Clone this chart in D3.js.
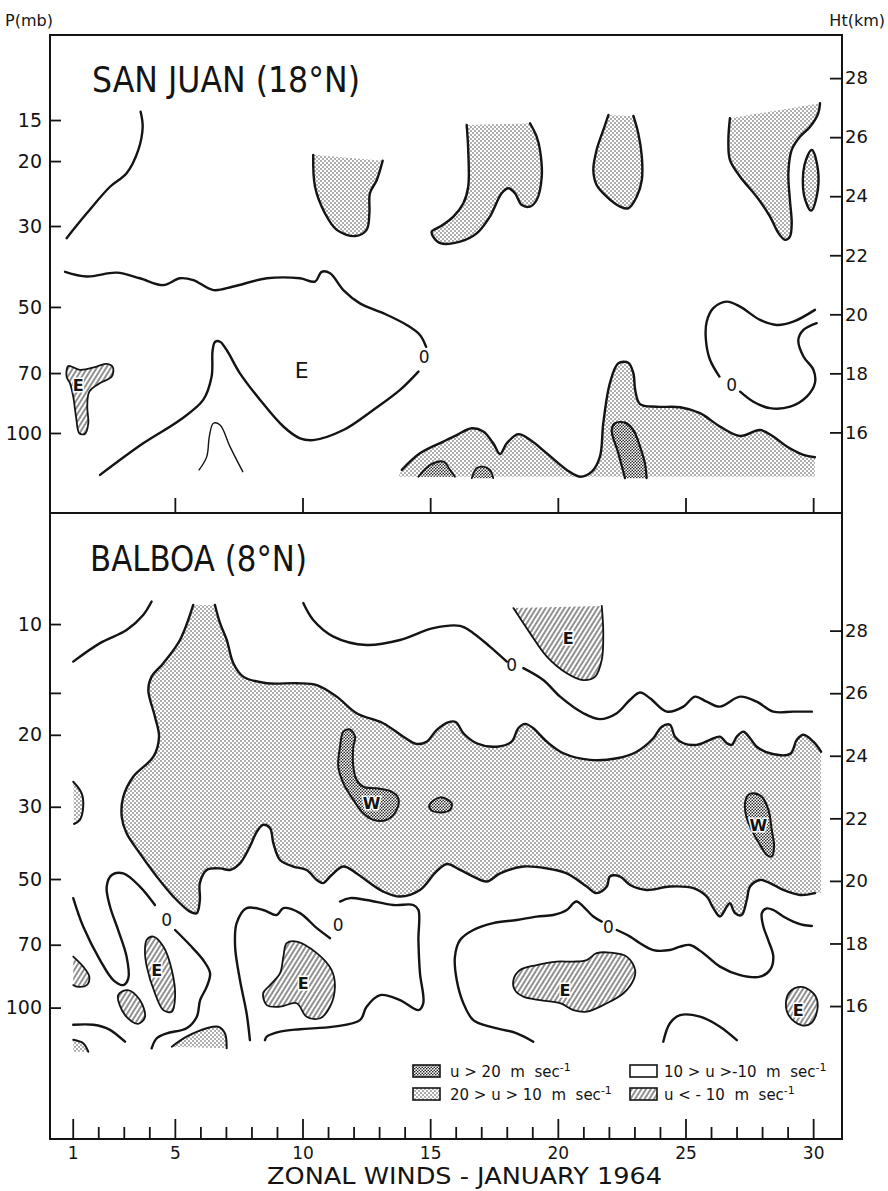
<!DOCTYPE html>
<html>
<head>
<meta charset="utf-8">
<script src="https://cdn.jsdelivr.net/npm/d3@7"></script>
<style>
  body { margin: 0; background: #fff; }
  svg { display: block; font-family: "DejaVu Sans", "Liberation Sans", sans-serif; }
</style>
</head>
<body>
<div id="chart"></div>
<script>
// ---- axes ----
const days = d3.range(1, 31);
const majorDays = [1, 5, 10, 15, 20, 25, 30];
const panelTickDays = [5, 10, 15, 20, 25, 30];
const heightTicks = [16, 18, 20, 22, 24, 26, 28];
const sjPressure = [15, 20, 30, 50, 70, 100];
const sjPressureKm = [26.58, 25.19, 22.99, 20.25, 18.01, 15.98];
const bbPressure = [10, 15, 20, 30, 50, 70, 100];
const bbPressureLabel = ['10', '', '20', '30', '50', '70', '100'];
const bbPressureKm = [28.21, 26.01, 24.67, 22.37, 20.06, 17.96, 15.95];

// ---- San Juan contours, [day, km] ----
const sjZeroWest = [[0.76,22.58],[1.55,23.42],[2.46,24.32],[3.11,24.78],[3.57,25.57],[3.74,26.35],[3.66,26.86]];
const sjStipA = [[10.42,25.40],[10.49,24.32],[10.88,23.42],[11.34,22.86],[12.06,22.65],[12.51,22.86],[12.62,23.42],[12.64,24.10],[12.91,24.55],[13.14,25.20]];
const sjStipB = [[16.43,26.41],[16.49,25.57],[16.49,24.32],[16.30,23.76],[15.91,23.31],[15.39,22.97],[15.06,22.80],[15.12,22.62],[15.39,22.41],[16.17,22.46],[16.82,22.74],[17.34,23.31],[17.80,24.10],[18.06,24.27],[18.32,24.10],[18.59,23.70],[18.91,23.65],[19.17,23.87],[19.37,24.66],[19.30,25.57],[19.17,26.02],[18.91,26.47]];
const sjStipC = [[21.98,26.75],[21.78,26.24],[21.52,25.57],[21.39,24.89],[21.52,24.38],[21.92,23.98],[22.44,23.65],[22.76,23.59],[23.09,23.98],[23.29,24.55],[23.29,25.34],[23.15,26.13],[22.96,26.72]];
const sjStipD = [[26.74,26.64],[26.68,25.90],[26.74,25.23],[27.14,24.66],[27.79,23.98],[28.31,23.31],[28.64,22.75],[28.90,22.52],[29.09,22.63],[29.16,23.08],[29.09,23.87],[29.03,24.78],[29.16,25.57],[29.49,26.02],[29.88,26.35],[30.20,26.81],[30.27,27.15]];
const sjStipE = [[29.95,25.57],[30.19,24.89],[30.15,24.04],[29.92,23.51],[29.64,24.04],[29.66,25.06]];
const sjZeroNorth = [[0.70,21.44],[1.55,21.28],[2.72,21.41],[3.63,21.22],[4.55,20.99],[5.20,21.22],[5.72,21.16],[6.51,20.82],[7.29,20.94],[8.60,21.22],[9.90,21.22],[10.49,21.11],[10.75,21.44],[11.08,21.39],[11.60,20.82],[12.25,20.37],[13.16,20.04],[14.08,19.64],[14.60,19.30],[14.84,18.90]];
const sjZeroSouth = [[14.54,18.06],[13.82,17.44],[12.77,16.76],[11.60,16.08],[10.42,15.74],[9.90,15.80],[9.25,16.20],[8.34,17.10],[7.55,18.00],[7.03,18.79],[6.77,19.07],[6.58,19.07],[6.48,18.79],[6.44,17.89],[6.11,17.10],[5.20,16.42],[3.76,15.63],[2.07,14.56]];
const sjThin = [[5.95,14.73],[6.25,15.18],[6.35,15.86],[6.51,16.31],[6.77,16.25],[7.16,15.52],[7.66,14.67]];
const sjEastCell = [[0.83,18.25],[1.28,18.12],[1.94,18.23],[2.33,18.32],[2.57,18.21],[2.53,17.89],[2.07,17.67],[1.65,17.38],[1.57,16.87],[1.61,16.31],[1.48,15.95],[1.26,15.97],[1.13,16.53],[1.02,17.21],[0.89,17.67],[0.76,17.89]];
const sjLowStip = [[13.89,14.73],[14.60,15.29],[15.52,15.69],[16.04,15.91],[16.63,16.14],[17.08,16.03],[17.47,15.63],[17.74,15.27],[18.00,15.63],[18.45,15.94],[18.91,15.75],[19.57,15.29],[20.35,14.73],[20.87,14.50],[21.33,14.67],[21.65,15.18],[21.78,16.31],[22.04,17.67],[22.37,18.34],[22.76,18.36],[22.96,18.00],[23.03,17.44],[23.22,16.96],[23.87,16.87],[24.79,16.85],[25.57,16.65],[26.35,16.20],[27.14,15.88],[27.92,16.08],[28.44,15.86],[28.97,15.52],[29.62,15.24],[30.07,15.16]];
const sjLowStipClose = [[30.07,14.50],[13.75,14.50]];
const sjLowStrong = [[22.63,14.45],[22.37,15.29],[22.11,16.08],[22.24,16.31],[22.63,16.33],[22.96,16.08],[23.22,15.52],[23.41,14.96],[23.48,14.45]];
const sjLowStrongA = [[14.54,14.50],[15.00,14.90],[15.52,15.01],[15.78,14.73],[15.97,14.50]];
const sjLowStrongB = [[16.63,14.45],[16.82,14.79],[17.08,14.84],[17.34,14.73],[17.47,14.45]];
const sjLoopNorth = [[30.07,20.15],[29.22,19.75],[28.57,19.64],[27.92,19.81],[27.14,20.26],[26.62,20.43],[26.09,20.21],[25.83,19.75],[25.80,19.13],[25.96,18.46],[26.33,17.89]];
const sjLoopSouth = [[27.14,17.38],[27.66,17.04],[28.31,16.82],[29.10,16.87],[29.75,17.21],[30.07,17.67],[30.01,18.12],[29.62,18.57],[29.42,19.13],[29.62,19.47],[30.14,19.70]];
const sjLabels = [
  { text: 'E', day: 9.97, km: 18.12, kind: 'big' },
  { text: 'E', day: 1.22, km: 17.61, kind: 'cell' },
  { text: '0', day: 14.76, km: 18.57, kind: 'zero' },
  { text: '0', day: 26.81, km: 17.61, kind: 'zero' }
];

// ---- Balboa contours, [day, km] ----
const bbLineNW = [[1.02,27.01],[2.07,27.60],[3.11,28.02],[3.76,28.50],[4.09,28.93]];
const bbZeroNorthA = [[10.03,28.88],[10.42,28.34],[11.21,27.81],[12.51,27.54],[13.82,27.70],[15.12,28.08],[16.17,28.15],[16.69,27.92],[17.34,27.49],[18.00,27.01]];
const bbZeroNorthB = [[18.65,26.80],[19.43,26.42],[20.09,25.89],[21.00,25.36],[21.65,25.17],[22.31,25.36],[22.83,25.79],[23.22,26.02],[23.61,25.84],[24.27,25.41],[24.92,25.57],[25.37,25.89],[25.83,25.73],[26.35,25.57],[27.14,25.89],[27.79,25.73],[28.44,25.41],[29.22,25.41],[29.95,25.41]];
const bbEastTop = [[21.72,28.79],[21.78,27.92],[21.72,27.06],[21.46,26.53],[21.00,26.42],[20.35,26.64],[19.57,27.17],[18.91,27.92],[18.26,28.72]];
const bbBandTop = [[6.57,28.82],[6.77,28.24],[7.03,27.71],[7.29,26.96],[7.68,26.53],[8.60,26.32],[9.77,26.32],[10.56,26.26],[11.34,25.89],[12.12,25.36],[13.16,25.04],[13.95,24.61],[14.47,24.38],[14.86,24.45],[15.26,24.83],[15.70,25.07],[16.00,25.08],[16.30,24.72],[16.82,24.40],[17.61,24.29],[18.19,24.45],[18.45,24.88],[18.72,25.02],[19.04,24.88],[19.57,24.45],[20.22,24.08],[21.26,23.87],[22.31,23.92],[23.09,24.13],[23.74,24.56],[24.07,24.93],[24.39,24.99],[24.59,24.61],[24.92,24.40],[25.44,24.35],[25.96,24.51],[26.35,24.61],[26.62,24.40],[26.81,24.35],[27.01,24.61],[27.27,24.77],[27.53,24.56],[27.79,24.29],[28.31,24.08],[29.10,24.06],[29.36,24.51],[29.62,24.67],[30.01,24.45],[30.31,24.13]];
const bbBandEdge = [[30.31,19.61]];
const bbBandBottom = [[30.07,19.61],[29.49,19.55],[28.83,19.71],[28.31,19.93],[27.92,20.03],[27.53,19.82],[27.40,19.39],[27.20,18.91],[26.94,18.97],[26.74,19.29],[26.62,19.18],[26.35,18.86],[26.09,19.13],[25.83,19.50],[25.31,19.77],[24.39,19.82],[23.48,19.71],[22.83,19.87],[22.44,20.14],[22.04,20.14],[21.92,19.82],[21.52,19.61],[21.13,19.82],[20.35,20.24],[19.57,20.40],[18.65,20.46],[17.74,20.24],[17.22,19.98],[16.69,20.14],[16.17,20.35],[15.66,20.54],[15.23,20.29],[14.60,19.71],[13.82,19.50],[13.16,19.66],[12.64,19.93],[12.12,20.24],[11.60,20.46],[11.08,20.14],[10.81,19.93],[10.56,20.03],[10.16,20.35],[9.64,20.46],[9.12,20.67],[8.86,21.20],[8.73,21.68],[8.46,21.79],[8.21,21.57],[7.94,21.10],[7.55,20.56],[7.16,20.35],[6.77,20.40],[6.25,20.35],[5.98,19.93],[5.98,19.39],[5.86,18.97],[5.59,19.02],[4.94,19.50],[4.29,20.14],[3.63,20.88],[3.11,21.52],[2.92,22.05],[2.98,22.69],[3.37,23.33],[4.16,23.97],[4.38,24.61],[4.22,25.25],[3.96,26.10],[4.09,26.53],[4.55,26.96],[5.20,27.70],[5.72,28.82]];
const bbWestA = [[11.60,24.77],[11.86,24.84],[12.06,24.60],[11.99,24.29],[11.99,23.65],[12.12,23.23],[12.38,23.01],[12.91,22.96],[13.49,22.85],[13.75,22.64],[13.69,22.27],[13.30,21.95],[12.77,21.95],[12.38,22.16],[11.99,22.59],[11.60,23.12],[11.40,23.65],[11.47,24.29]];
const bbBlob = [[14.97,22.43],[15.39,22.67],[15.84,22.49],[15.78,22.27],[15.39,22.19],[15.03,22.27]];
const bbWestB = [[27.66,22.80],[27.99,22.69],[28.25,22.27],[28.38,21.63],[28.47,21.10],[28.38,20.78],[28.18,20.83],[27.92,21.15],[27.66,21.52],[27.40,22.00],[27.33,22.48],[27.46,22.75]];
const bbEdgeStip = [[1.02,23.17],[1.35,22.80],[1.41,22.37],[1.28,21.95],[1.05,21.82]];
const bbLoopWestA = [[1.02,19.45],[1.41,18.54],[2.07,17.47],[2.59,16.83],[2.98,16.67],[3.18,16.89],[3.11,17.58],[2.78,18.43],[2.46,19.18],[2.33,19.82],[2.53,20.19],[2.98,20.24],[3.63,19.82],[4.22,19.23]];
const bbLoopWestB = [[5.01,18.43],[5.59,17.95],[6.11,17.47],[6.38,17.05],[6.25,16.62],[5.99,16.19],[5.86,15.66],[5.46,15.29],[4.68,15.13],[4.29,14.97],[4.09,14.65]];
const bbEastA = [[3.90,18.12],[4.16,18.22],[4.55,17.90],[4.88,17.15],[5.01,16.30],[4.88,15.82],[4.55,15.87],[4.22,16.41],[3.90,17.26],[3.83,17.79]];
const bbHatchEdge = [[1.02,17.58],[1.41,17.26],[1.65,16.94],[1.55,16.67],[1.16,16.62],[1.02,16.67]];
const bbHatchSmall = [[2.78,16.35],[3.16,16.51],[3.63,16.19],[3.83,15.65],[3.56,15.43],[3.05,15.71]];
const bbLineSW = [[1.02,15.40],[1.81,15.40],[2.46,15.24],[3.05,14.86]];
const bbStipCorner = [[1.02,14.92],[1.41,14.81],[1.61,14.54]];
const bbStipCornerClose = [[1.02,14.54]];
const bbStipLow = [[4.88,14.70],[5.46,15.02],[6.25,15.29],[6.70,15.34],[6.96,15.13],[7.03,14.65]];
const bbLoopMidA = [[7.94,14.91],[7.81,15.77],[7.55,16.83],[7.36,17.90],[7.42,18.65],[7.81,19.13],[8.46,19.07],[8.99,18.91],[9.25,19.13],[9.90,18.97],[10.56,18.49],[11.08,18.17]];
const bbLoopMidB = [[11.47,19.34],[11.86,19.45],[12.51,19.39],[13.56,19.23],[14.34,19.23],[14.54,19.07],[14.54,18.11],[14.60,17.05],[14.73,16.09],[14.54,15.87],[13.82,16.19],[13.04,16.35],[12.51,15.98],[12.25,15.55],[11.21,15.34],[9.90,15.26],[9.12,15.18],[8.60,15.02],[8.53,14.91]];
const bbEastB = [[9.38,18.01],[9.77,18.06],[10.56,17.69],[11.14,17.15],[11.27,16.62],[11.08,15.98],[10.69,15.61],[10.16,15.66],[9.77,16.09],[9.12,15.98],[8.60,16.03],[8.46,16.41],[8.73,16.67],[9.12,17.05],[9.25,17.58]];
const bbLoopEastA = [[19.04,14.86],[18.39,15.13],[17.34,15.34],[16.69,15.55],[16.30,16.09],[16.04,16.83],[15.97,17.58],[16.17,18.11],[16.69,18.43],[17.47,18.65],[18.39,18.75],[19.17,18.86],[19.82,18.91],[20.35,19.07],[20.61,19.29],[20.74,19.34],[21.00,19.18],[21.39,18.86],[21.72,18.70]];
const bbLoopEastB = [[22.31,18.43],[22.83,18.22],[23.22,18.01],[23.74,17.79],[24.39,17.79],[24.79,17.90],[25.18,17.95],[25.70,17.69],[26.35,17.26],[27.14,16.99],[27.92,16.94],[28.31,17.15],[28.44,17.58],[28.24,18.11],[28.05,18.54],[27.99,18.97],[28.18,19.12],[28.44,19.07],[28.83,18.86],[29.22,18.70],[29.62,18.59],[29.95,18.56]];
const bbEastC = [[18.26,16.83],[18.52,17.15],[19.17,17.31],[19.96,17.42],[20.61,17.42],[21.13,17.47],[21.52,17.69],[22.04,17.71],[22.70,17.58],[23.03,17.15],[22.96,16.83],[22.57,16.41],[21.92,16.09],[21.13,15.82],[20.61,15.87],[20.09,16.09],[19.30,16.19],[18.65,16.30],[18.32,16.51]];
const bbEastD = [[29.56,16.61],[30.04,16.38],[30.18,16.00],[29.96,15.48],[29.56,15.38],[29.06,15.68],[28.94,16.16],[29.13,16.49]];
const bbArc = [[24.13,14.86],[24.39,15.45],[24.79,15.71],[25.57,15.66],[26.35,15.34],[27.01,14.91]];
const bbLabels = [
  { text: 'E', day: 20.41, km: 27.75, kind: 'cell' },
  { text: '0', day: 18.19, km: 26.90, kind: 'zero' },
  { text: 'W', day: 12.71, km: 22.48, kind: 'cell' },
  { text: 'W', day: 27.85, km: 21.79, kind: 'cell' },
  { text: '0', day: 4.68, km: 18.75, kind: 'zero' },
  { text: 'E', day: 4.29, km: 17.15, kind: 'cell' },
  { text: '0', day: 11.40, km: 18.59, kind: 'zero' },
  { text: 'E', day: 10.03, km: 16.73, kind: 'cell' },
  { text: '0', day: 21.98, km: 18.54, kind: 'zero' },
  { text: 'E', day: 20.28, km: 16.51, kind: 'cell' },
  { text: 'E', day: 29.42, km: 15.87, kind: 'cell' }
];

// ---- legend ----
const legendText = ['u > 20  m  sec', '20 > u > 10  m  sec', '10 > u >-10  m  sec', 'u < - 10  m  sec'];
const legendKind = ['dark', 'light', 'none', 'hatch'];

// ---- layout ----
const width = 888, height = 1191;
const frame = { left: 50, right: 842, top: 35, mid: 513, bottom: 1139 };
const ink = '#141414';

const svg = d3.select('#chart').append('svg')
  .attr('width', width)
  .attr('height', height);

const defs = svg.append('defs');

// stipple 10-20 m/s
const stip = defs.append('pattern').attr('id', 'stip')
  .attr('patternUnits', 'userSpaceOnUse').attr('width', 4).attr('height', 4);
stip.append('rect').attr('width', 4).attr('height', 4).attr('fill', '#fff');
[[1, 1], [3, 3]].forEach(p => stip.append('circle')
  .attr('cx', p[0]).attr('cy', p[1]).attr('r', 0.8).attr('fill', '#4a4a4a'));

// dense stipple > 20 m/s
const stipDark = defs.append('pattern').attr('id', 'stipDark')
  .attr('patternUnits', 'userSpaceOnUse').attr('width', 3).attr('height', 3);
stipDark.append('rect').attr('width', 3).attr('height', 3).attr('fill', '#fff');
[[0.75, 0.75], [2.25, 2.25]].forEach(p => stipDark.append('circle')
  .attr('cx', p[0]).attr('cy', p[1]).attr('r', 0.85).attr('fill', '#2a2a2a'));

// hatching u < -10
const hatch = defs.append('pattern').attr('id', 'hatch')
  .attr('patternUnits', 'userSpaceOnUse').attr('width', 4).attr('height', 10)
  .attr('patternTransform', 'rotate(32)');
hatch.append('rect').attr('width', 4).attr('height', 10).attr('fill', '#fff');
hatch.append('line').attr('x1', 1).attr('y1', 0).attr('x2', 1).attr('y2', 10)
  .attr('stroke', '#222').attr('stroke-width', 1);

const fills = { light: 'url(#stip)', dark: 'url(#stipDark)', hatch: 'url(#hatch)', none: '#fff' };

// Scales
const x = d3.scaleLinear().domain([0.11, 31.13]).range([frame.left, frame.right]);
const yTop = d3.scaleLinear().domain([29.46, 13.27]).range([frame.top, frame.mid]);
const yBot = d3.scaleLinear().domain([31.76, 11.75]).range([frame.mid, frame.bottom]);

const smooth = d3.curveCatmullRom.alpha(0.5);
const smoothClosed = d3.curveCatmullRomClosed.alpha(0.5);

function drawShapes(g, y, shapes) {
  const open = d3.line().x(d => x(d[0])).y(d => y(d[1])).curve(smooth);
  const closed = d3.line().x(d => x(d[0])).y(d => y(d[1])).curve(smoothClosed);
  const lineTo = pts => pts.map(p => `L${x(p[0])},${y(p[1])}`).join('');

  shapes.forEach(s => {
    if (s.fill) {
      let d;
      if (s.closed) {
        d = closed(s.pts);
      } else {
        d = open(s.pts);
        if (s.close) d += lineTo(s.close);
        if (s.then) d += open(s.then).replace(/^M/, 'L');
        d += 'Z';
      }
      g.append('path').attr('d', d).attr('fill', fills[s.fill]);
    }
    [s.pts, s.then].filter(Boolean).forEach(p => {
      g.append('path')
        .attr('d', s.closed ? closed(p) : open(p))
        .attr('fill', 'none')
        .attr('stroke', ink)
        .attr('stroke-width', s.w || 2.4)
        .attr('stroke-linecap', 'round')
        .attr('stroke-linejoin', 'round');
    });
  });
}

function drawLabels(g, y, labels) {
  const size = { big: 22, cell: 16, zero: 17 };
  labels.forEach(l => {
    g.append('text')
      .attr('x', x(l.day))
      .attr('y', y(l.km))
      .attr('dy', '0.36em')
      .attr('text-anchor', 'middle')
      .attr('font-size', size[l.kind] + 'px')
      .attr('font-weight', l.kind === 'cell' ? 'bold' : 'normal')
      .attr('fill', ink)
      .attr('stroke', l.kind === 'cell' ? '#fff' : 'none')
      .attr('stroke-width', 3)
      .style('paint-order', 'stroke')
      .text(l.text);
  });
}

// ---- San Juan panel ----
const gTop = svg.append('g');
drawShapes(gTop, yTop, [
  { pts: sjLowStip, close: sjLowStipClose, fill: 'light' },
  { pts: sjLowStrong, fill: 'dark', w: 2.2 },
  { pts: sjLowStrongA, fill: 'dark', w: 1.8 },
  { pts: sjLowStrongB, fill: 'dark', w: 1.8 },
  { pts: sjStipA, fill: 'light' },
  { pts: sjStipB, fill: 'light' },
  { pts: sjStipC, fill: 'light' },
  { pts: sjStipD, fill: 'light' },
  { pts: sjStipE, fill: 'light', closed: true },
  { pts: sjEastCell, fill: 'hatch', closed: true, w: 1.8 },
  { pts: sjZeroWest },
  { pts: sjZeroNorth },
  { pts: sjZeroSouth },
  { pts: sjLoopNorth },
  { pts: sjLoopSouth },
  { pts: sjThin, w: 1.4 }
]);
drawLabels(gTop, yTop, sjLabels);

// ---- Balboa panel ----
const gBot = svg.append('g');
drawShapes(gBot, yBot, [
  { pts: bbBandTop, close: bbBandEdge, then: bbBandBottom, fill: 'light' },
  { pts: bbWestA, fill: 'dark', closed: true, w: 2 },
  { pts: bbBlob, fill: 'dark', closed: true, w: 2 },
  { pts: bbWestB, fill: 'dark', closed: true, w: 2 },
  { pts: bbEdgeStip, fill: 'light', w: 2 },
  { pts: bbStipCorner, close: bbStipCornerClose, fill: 'light', w: 2 },
  { pts: bbStipLow, fill: 'light', w: 2 },
  { pts: bbEastTop, fill: 'hatch', w: 1.8 },
  { pts: bbEastA, fill: 'hatch', closed: true, w: 1.8 },
  { pts: bbHatchEdge, fill: 'hatch', w: 1.8 },
  { pts: bbHatchSmall, fill: 'hatch', closed: true, w: 1.8 },
  { pts: bbEastB, fill: 'hatch', closed: true, w: 1.8 },
  { pts: bbEastC, fill: 'hatch', closed: true, w: 1.8 },
  { pts: bbEastD, fill: 'hatch', closed: true, w: 1.8 },
  { pts: bbLineNW },
  { pts: bbZeroNorthA },
  { pts: bbZeroNorthB },
  { pts: bbLoopWestA },
  { pts: bbLoopWestB },
  { pts: bbLineSW },
  { pts: bbLoopMidA },
  { pts: bbLoopMidB },
  { pts: bbLoopEastA },
  { pts: bbLoopEastB },
  { pts: bbArc }
]);
drawLabels(gBot, yBot, bbLabels);

// ---- frame ----
svg.append('rect')
  .attr('x', frame.left).attr('y', frame.top)
  .attr('width', frame.right - frame.left).attr('height', frame.bottom - frame.top)
  .attr('fill', 'none').attr('stroke', ink).attr('stroke-width', 2);
svg.append('line')
  .attr('x1', frame.left).attr('x2', frame.right)
  .attr('y1', frame.mid).attr('y2', frame.mid)
  .attr('stroke', ink).attr('stroke-width', 2);

function styleAxis(a, size) {
  a.select('.domain').remove();
  a.selectAll('line').attr('stroke', ink).attr('stroke-width', 1.8);
  a.selectAll('text').attr('fill', ink).attr('font-size', size + 'px')
    .attr('font-family', '"DejaVu Sans", sans-serif');
}

// Left pressure axes
const axTopL = svg.append('g').attr('transform', `translate(${frame.left},0)`)
  .call(d3.axisLeft(yTop).tickValues(sjPressureKm)
    .tickFormat((d, i) => sjPressure[i]).tickSizeInner(-11).tickSizeOuter(0).tickPadding(8));
styleAxis(axTopL, 19);
const axBotL = svg.append('g').attr('transform', `translate(${frame.left},0)`)
  .call(d3.axisLeft(yBot).tickValues(bbPressureKm)
    .tickFormat((d, i) => bbPressureLabel[i]).tickSizeInner(-11).tickSizeOuter(0).tickPadding(8));
styleAxis(axBotL, 19);

// Right height axes
[yTop, yBot].forEach(y => {
  const a = svg.append('g').attr('transform', `translate(${frame.right},0)`)
    .call(d3.axisRight(y).tickValues(heightTicks).tickSizeInner(-12).tickSizeOuter(0).tickPadding(3));
  styleAxis(a, 18);
});

// Day ticks under the San Juan panel
const axMid = svg.append('g').attr('transform', `translate(0,${frame.mid})`)
  .call(d3.axisBottom(x).tickValues(panelTickDays).tickFormat('').tickSizeInner(-15).tickSizeOuter(0));
styleAxis(axMid, 10);

// Bottom day axis
const axBot = svg.append('g').attr('transform', `translate(0,${frame.bottom})`)
  .call(d3.axisBottom(x).tickValues(days)
    .tickFormat(d => majorDays.includes(d) ? d : '')
    .tickSizeInner(-12).tickSizeOuter(0).tickPadding(8));
styleAxis(axBot, 17);
axBot.selectAll('.tick line').attr('y2', d => majorDays.includes(d) ? -20 : -12);

// ---- titles ----
svg.append('text').attr('x', 5).attr('y', 26)
  .attr('font-size', '16px').attr('fill', ink).text('P(mb)');
svg.append('text').attr('x', 885).attr('y', 26).attr('text-anchor', 'end')
  .attr('font-size', '16px').attr('fill', ink).text('Ht(km)');

svg.append('text').attr('x', 92).attr('y', 92)
  .attr('font-size', '35px').attr('fill', ink)
  .attr('textLength', 268).attr('lengthAdjust', 'spacingAndGlyphs')
  .text('SAN JUAN (18°N)');
svg.append('text').attr('x', 90).attr('y', 571)
  .attr('font-size', '35px').attr('fill', ink)
  .attr('textLength', 217).attr('lengthAdjust', 'spacingAndGlyphs')
  .text('BALBOA (8°N)');

svg.append('text').attr('x', 267).attr('y', 1184)
  .attr('font-size', '23px').attr('fill', ink)
  .attr('textLength', 395).attr('lengthAdjust', 'spacingAndGlyphs')
  .text('ZONAL  WINDS  -  JANUARY  1964');

// ---- legend ----
const legendX = [413, 630];
const legendTextX = [450, 664];
const legendY = [1065, 1088];
legendText.forEach((t, i) => {
  const col = Math.floor(i / 2), row = i % 2;
  svg.append('rect')
    .attr('x', legendX[col]).attr('y', legendY[row])
    .attr('width', 27).attr('height', 12)
    .attr('fill', fills[legendKind[i]])
    .attr('stroke', ink).attr('stroke-width', 1.6);
  const tx = svg.append('text')
    .attr('x', legendTextX[col]).attr('y', legendY[row] + 12)
    .attr('font-size', '15px').attr('fill', ink)
    .style('white-space', 'pre');
  tx.append('tspan').text(t);
  tx.append('tspan').attr('dy', -6).attr('font-size', '11px').text('-1');
});
</script>
</body>
</html>
